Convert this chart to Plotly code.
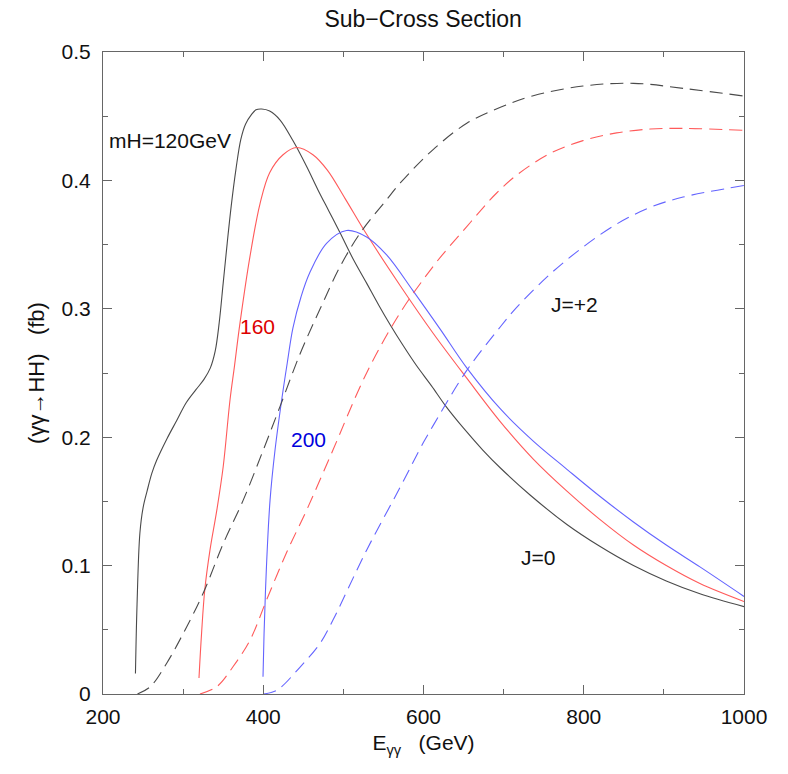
import plotly.graph_objects as go

# ---- data ----
# J=0 solid curves
x_j0_120 = [240.5, 242.5, 246, 250, 255, 261, 267, 280, 292, 304, 316, 326, 334, 340, 345, 350, 355, 360, 366, 372, 378, 385, 391, 398, 408, 421, 437, 454, 468, 482, 496, 512, 529, 544, 558, 575, 591, 610, 628, 650, 674, 696, 733, 779, 820, 862, 903, 945, 1000]
y_j0_120 = [0.016, 0.07, 0.125, 0.145, 0.158, 0.172, 0.182, 0.199, 0.213, 0.227, 0.237, 0.245, 0.254, 0.267, 0.289, 0.32, 0.351, 0.38, 0.409, 0.432, 0.444, 0.451, 0.455, 0.4556, 0.454, 0.447, 0.431, 0.411, 0.393, 0.376, 0.359, 0.339, 0.32, 0.303, 0.288, 0.271, 0.256, 0.24, 0.224, 0.207, 0.19, 0.176, 0.155, 0.132, 0.115, 0.100, 0.088, 0.078, 0.068]

x_j0_160 = [319.8, 323, 327, 333.5, 342, 350, 358.5, 364, 371, 383.5, 396, 408, 424.7, 441.7, 462, 480, 502, 529, 571, 612, 654, 696, 737, 779, 820, 862, 903, 945, 1000]
y_j0_160 = [0.0125, 0.047, 0.081, 0.112, 0.143, 0.177, 0.229, 0.255, 0.289, 0.341, 0.382, 0.406, 0.42, 0.4256, 0.42, 0.408, 0.386, 0.358, 0.318, 0.281, 0.246, 0.212, 0.183, 0.158, 0.136, 0.116, 0.1, 0.086, 0.072]

x_j0_200 = [399.7, 401, 404, 408.5, 414.7, 423, 430, 437, 447, 458, 479, 504, 529, 554, 587, 621, 654, 696, 737, 779, 820, 862, 903, 945, 1000]
y_j0_200 = [0.0135, 0.047, 0.099, 0.151, 0.19, 0.229, 0.258, 0.285, 0.309, 0.328, 0.351, 0.361, 0.356, 0.342, 0.314, 0.284, 0.254, 0.222, 0.197, 0.175, 0.154, 0.134, 0.116, 0.099, 0.076]

# J=+2 dashed curves
x_j2_120 = [243, 259, 279.5, 300, 325, 350, 375, 400, 421, 446, 471, 496, 521, 554, 571, 612, 654, 696, 737, 799, 862, 924, 1000]
y_j2_120 = [0.0, 0.0057, 0.024, 0.047, 0.0785, 0.117, 0.151, 0.19, 0.224, 0.265, 0.30, 0.333, 0.359, 0.385, 0.398, 0.424, 0.4445, 0.457, 0.466, 0.4735, 0.4756, 0.4717, 0.4657]

x_j2_160 = [321, 342, 362, 383.5, 404, 429, 454, 471, 487, 529, 571, 612, 633, 654, 674, 691, 716, 758, 799, 841, 883, 924, 1000]
y_j2_160 = [0.0, 0.0057, 0.021, 0.042, 0.073, 0.11, 0.143, 0.167, 0.19, 0.25, 0.297, 0.333, 0.349, 0.364, 0.3785, 0.39, 0.404, 0.421, 0.431, 0.437, 0.44, 0.4405, 0.439]

x_j2_200 = [400, 417, 446, 471, 487, 529, 570, 600, 612, 654, 696, 716, 758, 799, 841, 883, 924, 1000]
y_j2_200 = [0.0, 0.003, 0.021, 0.0395, 0.0576, 0.112, 0.16, 0.196, 0.209, 0.252, 0.286, 0.301, 0.327, 0.348, 0.366, 0.379, 0.387, 0.396]

x_ticks = [200, 400, 600, 800, 1000]
y_ticks = [0, 0.1, 0.2, 0.3, 0.4, 0.5]

BLACK = "#4a4a4a"
RED = "#ff5a5a"
BLUE = "#6464ff"
DASH = "13px,7px"

fig = go.Figure()

def add(x, y, color, dash):
    fig.add_trace(go.Scatter(x=x, y=y, mode="lines",
                             line=dict(color=color, width=1.1, dash=dash, shape="spline", smoothing=1.0),
                             showlegend=False, hoverinfo="skip"))

add(x_j0_120, y_j0_120, BLACK, "solid")
add(x_j0_160, y_j0_160, RED, "solid")
add(x_j0_200, y_j0_200, BLUE, "solid")
add(x_j2_120, y_j2_120, BLACK, DASH)
add(x_j2_160, y_j2_160, RED, DASH)
add(x_j2_200, y_j2_200, BLUE, DASH)

font = "Liberation Sans, Arial, sans-serif"

annos = [
    dict(x=283, y=0.431, text="mH=120GeV", color="#111111"),
    dict(x=393, y=0.286, text="160", color="#dd0000"),
    dict(x=456, y=0.198, text="200", color="#0000dd"),
    dict(x=789, y=0.303, text="J=+2", color="#111111"),
    dict(x=743, y=0.106, text="J=0", color="#111111"),
]
for a in annos:
    fig.add_annotation(x=a["x"], y=a["y"], text=a["text"], showarrow=False,
                       font=dict(family=font, size=21, color=a["color"]),
                       xanchor="center", yanchor="middle")

axis_common = dict(
    showgrid=False, zeroline=False, showline=True, linecolor="#666666", linewidth=1,
    mirror="ticks", ticks="inside", ticklen=9, tickcolor="#666666", tickwidth=1,
    tickfont=dict(family=font, size=21, color="#111111"),
)

fig.update_layout(
    width=788, height=774,
    paper_bgcolor="white", plot_bgcolor="white",
    margin=dict(l=103, r=44, t=52, b=80, autoexpand=False),
    title=dict(text="Sub−Cross Section", x=0.537, xanchor="center", y=0.976, yanchor="middle",
               font=dict(family=font, size=23, color="#111111")),
    xaxis=dict(range=[200, 1000], tickvals=x_ticks, ticktext=[str(v) for v in x_ticks],
               minor=dict(dtick=100, tick0=200, ticks="inside", ticklen=5, tickcolor="#666666"),
               ticklabelstandoff=4,
               title=dict(text="E<sub>γγ</sub>   (GeV)", font=dict(family=font, size=21, color="#111111"), standoff=8),
               **axis_common),
    yaxis=dict(range=[0, 0.5], tickvals=y_ticks, ticktext=["0", "0.1", "0.2", "0.3", "0.4", "0.5"],
               minor=dict(dtick=0.05, tick0=0, ticks="inside", ticklen=5, tickcolor="#666666"),
               ticklabelstandoff=7,
               title=dict(text="(γγ→HH)   (fb)", font=dict(family=font, size=22, color="#111111"), standoff=10),
               **axis_common),
)

fig.write_html("out.html")
